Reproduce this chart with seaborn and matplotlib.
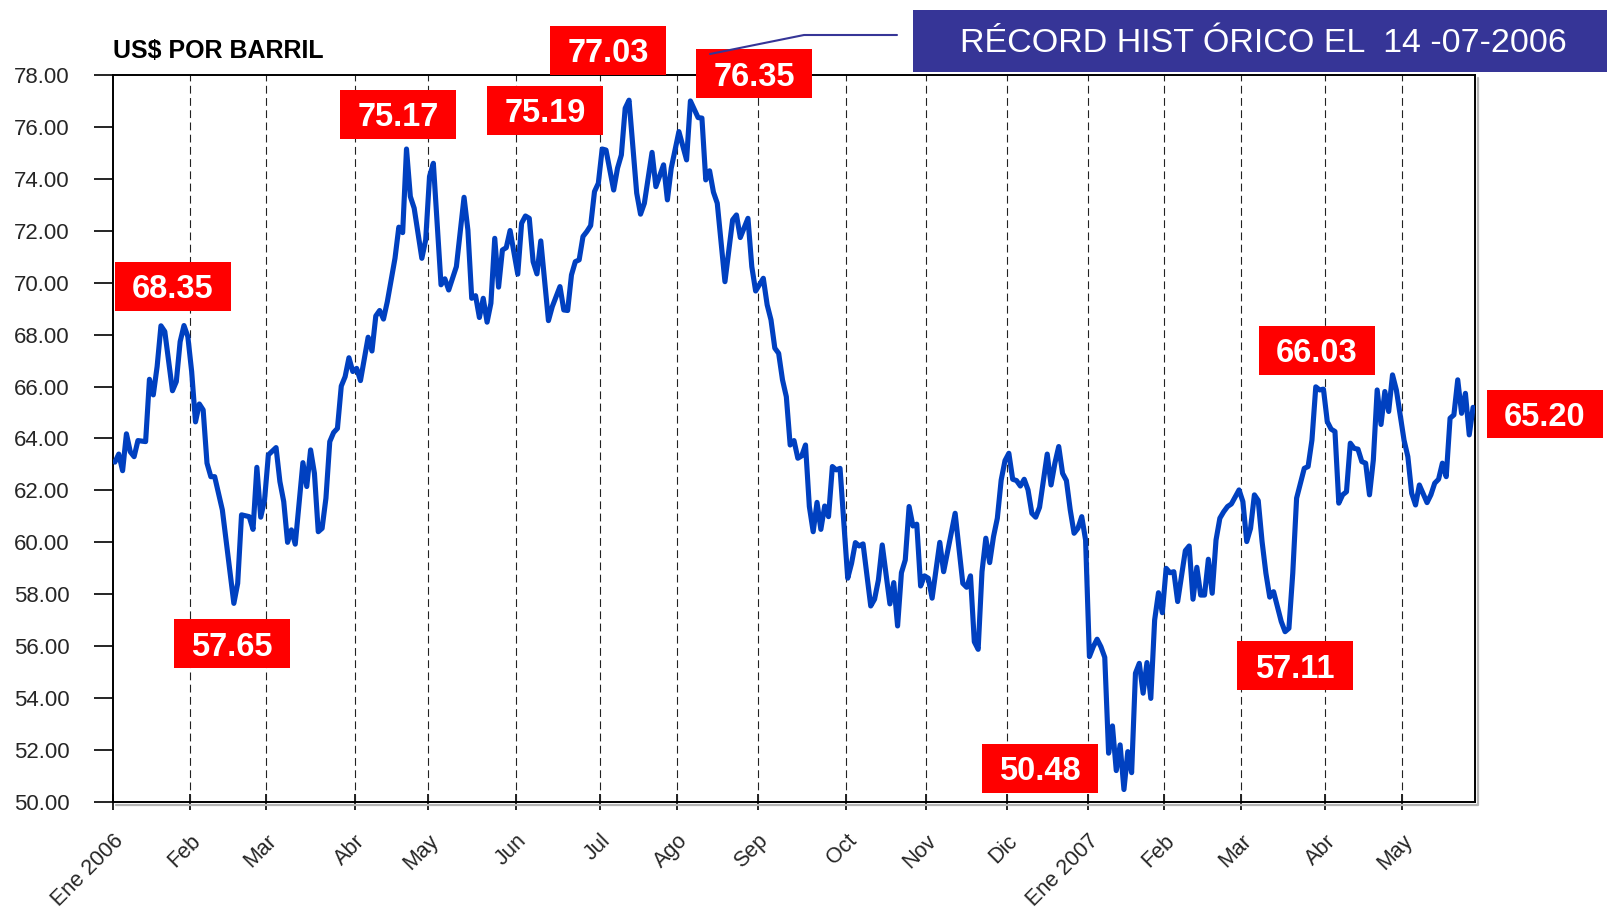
import matplotlib
matplotlib.use("Agg")
import matplotlib.pyplot as plt
import seaborn as sns
import pandas as pd
from matplotlib.patches import Rectangle
from matplotlib.lines import Line2D


# meses del eje x y dia bursatil (indice) en que empieza cada uno
MESES = ["Ene 2006", "Feb", "Mar", "Abr", "May", "Jun", "Jul", "Ago", "Sep",
         "Oct", "Nov", "Dic", "Ene 2007", "Feb", "Mar", "Abr", "May"]
INICIO_MES = [0, 20, 40, 63, 82, 105, 127, 147, 168, 191, 212, 233, 254, 274,
              294, 316, 336]

# precio (US$ por barril), por dia bursatil
DIA = [
    0, 1, 2, 3, 4, 5, 6, 8, 9, 10, 11, 12, 13, 15, 16, 17, 18, 19, 20, 21,
    22, 23, 24, 25, 26, 28, 31, 32, 33, 35, 36, 37, 38, 39, 40, 42, 43, 44, 45, 46,
    47, 49, 50, 51, 52, 53, 54, 55, 56, 57, 58, 59, 60, 61, 62, 63, 64, 66, 67, 68,
    69, 70, 71, 73, 74, 75, 76, 77, 78, 80, 81, 82, 83, 85, 86, 87, 89, 91, 92, 93,
    94, 95, 96, 97, 98, 99, 100, 101, 102, 103, 105, 106, 107, 108, 109, 110, 111, 113, 114, 116,
    117, 118, 119, 120, 121, 122, 123, 124, 125, 126, 127, 128, 130, 131, 132, 133, 134, 136, 137, 138,
    140, 141, 143, 144, 145, 147, 149, 150, 152, 153, 154, 155, 156, 157, 159, 161, 162, 163, 165, 166,
    167, 169, 170, 171, 172, 173, 174, 175, 176, 177, 178, 179, 180, 181, 182, 183, 184, 185, 186, 187,
    188, 189, 191, 192, 193, 194, 195, 197, 198, 199, 200, 202, 203, 204, 205, 206, 207, 208, 209, 210,
    211, 212, 213, 215, 216, 219, 220, 221, 222, 223, 224, 225, 226, 227, 228, 229, 230, 231, 232, 233,
    234, 235, 236, 237, 238, 239, 240, 241, 243, 244, 245, 246, 247, 248, 249, 250, 251, 252, 253, 254,
    255, 256, 257, 258, 259, 260, 261, 262, 263, 264, 265, 266, 267, 268, 269, 270, 271, 272, 273, 274,
    275, 276, 277, 279, 280, 281, 282, 283, 284, 285, 286, 287, 288, 289, 290, 291, 293, 294, 295, 296,
    297, 298, 299, 300, 301, 302, 303, 304, 305, 306, 307, 308, 309, 310, 311, 312, 313, 314, 315, 316,
    317, 318, 319, 320, 321, 322, 323, 324, 325, 326, 327, 328, 329, 330, 331, 332, 333, 334, 335, 336,
    337, 338, 339, 340, 342, 343, 344, 345, 346, 347, 348, 349, 350, 351, 352, 353, 354,
]
PRECIO = [
    63.09, 63.40, 62.76, 64.18, 63.49, 63.30, 63.92, 63.88, 66.28, 65.68, 66.77, 68.34, 68.12, 65.84, 66.19, 67.73, 68.35, 67.93, 66.58, 64.64,
    65.33, 65.10, 63.05, 62.53, 62.53, 61.25, 57.65, 58.42, 61.06, 60.99, 60.50, 62.89, 60.97, 61.63, 63.37, 63.65, 62.34, 61.57, 60.00, 60.48,
    59.93, 63.07, 62.15, 63.56, 62.66, 60.41, 60.54, 61.70, 63.88, 64.23, 64.39, 66.02, 66.38, 67.11, 66.58, 66.70, 66.23, 67.90, 67.37, 68.72,
    68.93, 68.60, 69.27, 70.94, 72.14, 71.93, 75.15, 73.32, 72.87, 70.94, 71.65, 74.09, 74.60, 69.92, 70.15, 69.72, 70.62, 73.29, 72.03, 69.40,
    69.50, 68.66, 69.40, 68.48, 69.21, 71.71, 69.83, 71.26, 71.35, 72.01, 70.33, 72.29, 72.57, 72.48, 70.81, 70.34, 71.61, 68.54, 69.08, 69.85,
    68.95, 68.93, 70.30, 70.81, 70.88, 71.78, 71.97, 72.20, 73.51, 73.83, 75.15, 75.11, 73.57, 74.41, 74.92, 76.72, 77.03, 73.45, 72.64, 73.06,
    75.02, 73.70, 74.54, 73.19, 74.41, 75.82, 74.73, 77.00, 76.36, 76.34, 73.96, 74.31, 73.49, 73.06, 70.04, 72.42, 72.61, 71.74, 72.48, 70.62,
    69.68, 70.17, 69.15, 68.57, 67.48, 67.28, 66.26, 65.61, 63.75, 63.92, 63.24, 63.33, 63.75, 61.38, 60.41, 61.54, 60.50, 61.40, 60.99, 62.92,
    62.79, 62.85, 58.62, 59.19, 59.99, 59.86, 59.94, 57.55, 57.81, 58.55, 59.90, 57.63, 58.45, 56.78, 58.83, 59.32, 61.38, 60.63, 60.70, 58.32,
    58.71, 58.62, 57.85, 60.00, 58.87, 61.12, 59.77, 58.42, 58.27, 58.71, 56.17, 55.88, 58.87, 60.16, 59.22, 60.22, 60.93, 62.40, 63.15, 63.43,
    62.43, 62.38, 62.17, 62.43, 62.02, 61.12, 60.97, 61.35, 63.40, 62.21, 63.05, 63.69, 62.66, 62.38, 61.25, 60.35, 60.54, 60.99, 60.09, 55.60,
    55.98, 56.27, 55.98, 55.57, 51.88, 52.93, 51.21, 52.20, 50.48, 51.94, 51.13, 54.96, 55.34, 54.19, 55.37, 53.99, 57.01, 58.06, 57.29, 59.00,
    58.83, 58.87, 57.72, 59.68, 59.86, 57.81, 59.04, 57.97, 57.97, 59.35, 58.04, 60.09, 60.93, 61.18, 61.38, 61.48, 62.02, 61.57, 60.03, 60.54,
    61.83, 61.61, 60.03, 58.81, 57.89, 58.10, 57.52, 56.95, 56.56, 56.69, 58.81, 61.70, 62.28, 62.85, 62.92, 63.94, 65.99, 65.87, 65.90, 64.65,
    64.36, 64.27, 61.51, 61.83, 61.95, 63.82, 63.62, 63.59, 63.11, 63.05, 61.83, 63.17, 65.87, 64.54, 65.81, 65.04, 66.45, 65.87, 64.91, 63.94,
    63.30, 61.89, 61.44, 62.21, 61.53, 61.83, 62.28, 62.43, 63.05, 62.53, 64.78, 64.91, 66.26, 64.97, 65.74, 64.14, 65.20,
]

ETIQUETAS = ["68.35", "57.65", "75.17", "75.19", "77.03", "76.35",
             "50.48", "66.03", "57.11", "65.20"]
TITULO = "RÉCORD HIST ÓRICO EL  14 -07-2006"
UNIDAD = "US$ POR BARRIL"

W, H = 1608, 911
AZUL = "#0040C0"
ROJO = "#FF0000"
MORADO = "#363597"

# centro en pixeles de cada recuadro rojo (mismo orden que ETIQUETAS)
CAJAS = [(173, 286), (232, 643), (398, 114), (545, 110), (608, 50),
         (754, 73), (1040, 768), (1317, 350), (1295, 665), (1545, 414)]


def fx(x):
    return x / W


def fy(y):
    return 1 - y / H


sns.set_style("white")
plt.rcParams["font.family"] = ["Liberation Sans", "DejaVu Sans"]

fig = plt.figure(figsize=(W / 100, H / 100), dpi=100)
ax = fig.add_axes([fx(113), fy(802), (1475 - 113) / W, (802 - 75) / H])

df = pd.DataFrame({"dia": DIA, "precio": PRECIO})
sns.lineplot(data=df, x="dia", y="precio", ax=ax, color=AZUL,
             linewidth=3.7, zorder=3)

ax.set_xlim(-0.5, 354.5)
ax.set_ylim(50, 78)
ax.set_xlabel("")
ax.set_ylabel("")

# lineas verticales punteadas al inicio de cada mes
for d in INICIO_MES[1:]:
    ax.axvline(d - 0.5, color="#222222", linewidth=0.8, dashes=(7, 4), zorder=1)

ax.set_xticks([d - 0.5 for d in INICIO_MES])
ax.set_xticklabels(MESES, rotation=45, ha="right", va="top",
                   rotation_mode="anchor", fontsize=15.5)
yt = list(range(50, 79, 2))
ax.set_yticks(yt)
ax.set_yticklabels([f"{v:.2f}" for v in yt], fontsize=16)
ax.tick_params(axis="x", direction="inout", length=11, width=1.2, pad=15, color="black")
ax.tick_params(axis="y", direction="out", length=14, width=1.2, pad=17, color="black")
ax.tick_params(left=True, bottom=True)

for s in ax.spines.values():
    s.set_visible(True)
    s.set_color("black")
    s.set_linewidth(1.4)

# sombra gris del area de trazado
fig.add_artist(Line2D([fx(116), fx(1478), fx(1478)], [fy(805), fy(805), fy(78)],
                      color="#b5b5b5", linewidth=1.6, zorder=0.5))

fig.text(fx(113), fy(58.5), UNIDAD, fontsize=18, fontweight="bold",
         va="baseline", ha="left", color="black")

# recuadro del titulo y su linea guia
fig.add_artist(Rectangle((fx(913), fy(72)), (W - 913) / W, 62 / H,
                         transform=fig.transFigure, facecolor=MORADO,
                         edgecolor="none", zorder=4))
fig.text(fx(960), fy(52), TITULO, color="white", fontsize=24.5,
         va="baseline", ha="left", zorder=5)
fig.add_artist(Line2D([fx(897), fx(804), fx(710)], [fy(35), fy(35), fy(54)],
                      color=MORADO, linewidth=1.5, zorder=7))

# etiquetas rojas de maximos y minimos
for txt, (cx, cy) in zip(ETIQUETAS, CAJAS):
    fig.add_artist(Rectangle((fx(cx - 58), fy(cy + 24.5)), 116 / W, 49 / H,
                             transform=fig.transFigure, facecolor=ROJO,
                             edgecolor="none", zorder=5))
    fig.text(fx(cx), fy(cy + 12.5), txt, color="white", fontsize=23.5,
             fontweight="bold", ha="center", va="baseline", zorder=6)

fig.savefig("out.png", dpi=100)
